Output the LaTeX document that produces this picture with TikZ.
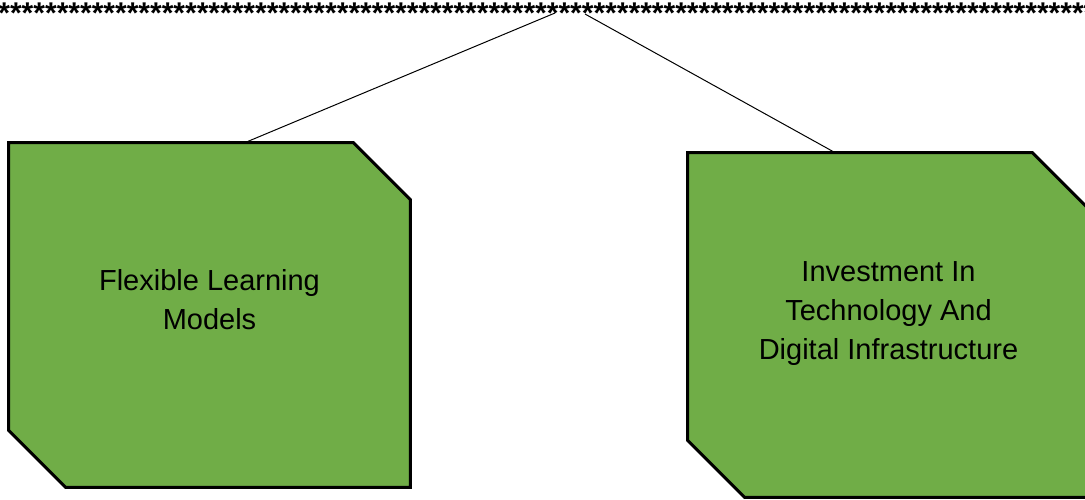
\documentclass[tikz,border=0pt]{standalone}
\usepackage{fontspec}
\setmainfont{Liberation Sans}
\usetikzlibrary{calc}
\definecolor{boxgreen}{HTML}{70AD47}
\begin{document}
\begin{tikzpicture}[x=0.5pt, y=-0.5pt, font=\fontsize{14.5}{19.5}\selectfont,
    topic/.style={rectangle, minimum width=200.5pt, minimum height=172pt, inner sep=0pt},
    topicline/.style={draw=black, line width=1.5pt, fill=boxgreen, line join=miter},
    topictext/.style={align=center, inner sep=0pt}]
    \useasboundingbox (0,0) rectangle (1085,499);
    \node[anchor=base west, inner sep=0pt, font=\fontsize{15}{18}\bfseries\selectfont] (stars) at (-2,23) {\foreach \i in {1,...,96}{*}};
    \coordinate (topL) at (555,13);
    \coordinate (topR) at (585,14);
    \node[topic] (flex) at (209.5,315) {};
    \node[topic] (invest) at (888.5,325) {};
    \foreach \b in {flex,invest}
        \draw[topicline] (\b.north west) -- ($(\b.north east)+(-57,0)$) -- ($(\b.north east)+(0,57)$)
            -- (\b.south east) -- ($(\b.south west)+(57,0)$) -- ($(\b.south west)+(0,-57)$) -- cycle;
    \node[topictext] (flextext) at ($(flex.center)+(0,-15)$) {Flexible Learning\\Models};
    \node[topictext] (investtext) at ($(invest.center)+(0,-11)$) {Investment In\\Technology And\\Digital Infrastructure};
    \draw[line width=0.5pt] (topL) -- ($(flex.north)+(35.5,0)$);
    \draw[line width=0.5pt] (topR) -- ($(invest.north)+(-53.5,0)$);
\end{tikzpicture}
\end{document}
